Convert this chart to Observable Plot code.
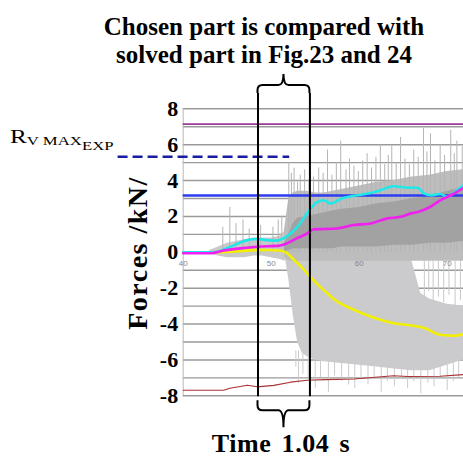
<!DOCTYPE html>
<html><head><meta charset="utf-8">
<script src="https://cdn.jsdelivr.net/npm/d3@7"></script>
<script src="https://cdn.jsdelivr.net/npm/@observablehq/plot@0.6"></script>
<style>body{margin:0;background:#fff}svg{display:block}</style>
</head><body><div id="chart"></div>
<script>
// ---- data ----
const yTicks = [8, 6, 4, 2, 0, -2, -4, -6, -8];
const gridValues = [-8,-7,-6,-5,-4,-3,-2,-1,0,1,2,3,4,5,6,7,8];
const xTicks = [40, 50, 60, 70];
const xDomain = [40, 71.85];
const selection = [48.5, 54.4];
const rvMax = 5.33, dashStart = 32.6, dashEnd = 52.1;
const purpleLevel = 7.15, blueLevel = 3.17;

const cyanT = [40,43.5,45.3,47.3,48.4,49.5,50.7,51.4,52.2,53.0,53.7,54.5,55.2,56.0,56.7,57.9,58.4,59.4,61.3,62.4,63.9,65.5,66.6,67.4,68.1,69.2,70.0,71.1,71.85];
const cyanV = [0,0,0.3,0.68,0.74,0.68,0.65,0.78,1.05,1.43,1.9,2.45,2.8,2.9,2.72,2.97,3.05,3.15,3.31,3.46,3.68,3.6,3.6,3.27,3.18,3.25,3.1,3.46,3.74];
const magT = [40,43.1,44.6,46.5,48.4,51.0,51.8,52.9,54.1,54.8,56.0,57.5,59.4,61.3,63.2,64.7,65.9,67.0,68.1,69.2,70.4,71.1,71.85];
const magV = [-0.05,-0.05,0.1,0.22,0.31,0.37,0.5,0.78,1.05,1.28,1.3,1.33,1.52,1.61,1.89,1.98,2.17,2.3,2.54,2.9,3.18,3.37,3.6];
const yelT = [40,44,46,48,49.5,51,51.8,52.6,53.4,54.5,55.3,56.2,57.1,59.4,61.7,63.9,65.5,67.4,69.2,70.8,71.85];
const yelV = [0,0,0.05,0.12,0.13,0.1,-0.05,-0.43,-0.8,-1.4,-1.8,-2.2,-2.6,-3.2,-3.65,-3.95,-4.05,-4.22,-4.6,-4.65,-4.57];
const redT = [40,44.6,45.3,47.3,48.4,50.3,52.2,54.1,56.2,59.4,63.9,65.5,69.2,71.85];
const redV = [-7.69,-7.69,-7.58,-7.41,-7.5,-7.42,-7.24,-7.13,-7.1,-7.06,-6.88,-6.92,-6.91,-6.82];

// raw force signal envelopes (gray)
const earlyT  = [43,44,45,46,47,48,49,50,51,51.6];
const earlyHi = [0.1,0.3,0.5,0.6,0.7,0.8,0.8,0.8,0.9,1.2];
const earlyLo = [-0.1,-0.2,-0.3,-0.3,-0.3,-0.2,-0.2,-0.3,-0.4,-0.5];
const posT  = [51.5,52,52.5,53,54,55,56,57,58,60,62,64,66,68,70,71.85];
const posHi = [1.2,3.0,3.3,3.4,3.4,3.3,3.3,3.4,3.5,3.7,3.9,4.0,4.2,4.3,4.5,4.6];
const posLo = [-0.3,-0.5,-0.5,-0.5,-0.5,-0.5,-0.5,-0.5,-0.5,-0.5,-0.5,-0.5,-0.5,-0.5,-0.5,-0.5];
const coreHi = [0.5,1.0,1.6,1.9,2.0,2.1,2.2,2.3,2.4,2.5,2.7,2.8,3.0,3.1,3.4,3.6];
const coreLo = [0,0.1,0.2,0.2,0.2,0.2,0.2,0.2,0.3,0.3,0.3,0.4,0.4,0.5,0.5,0.6];
const negT  = [51.6,52,52.5,53,53.5,54,55,56,58,60,62,64,66,67,68,70,71.85];
const negHi = [0,0,0,0,0,0,0,0,0,0,0,0,-0.5,-2.3,-2.6,-2.9,-3.0];
const negLo = [-0.3,-1.5,-3.5,-5.0,-5.6,-5.8,-6.0,-6.1,-6.2,-6.3,-6.4,-6.5,-6.6,-6.6,-6.6,-6.3,-6.0];
const spikeUpT  = [44.5,45.3,46,46.8,47.5,48.8,50.2,50.8,51.2,52.0,52.3,52.6,53.0,53.3,53.8,54.3,54.8,55.4,55.9,56.4,56.9,57.4,57.9,58.5,58.9,59.4,59.9,60.4,60.9,61.4,61.9,62.4,62.9,63.3,63.7,64.2,64.7,65.2,65.7,66.2,66.7,67.3,67.7,68.1,68.6,69.2,69.7,70.4,70.8,71.1,71.7];
const spikeUpV  = [1.4,2.5,1.6,1.8,1.3,1.5,1.4,1.8,2.0,5.0,4.4,4.7,3.9,4.3,4.6,4.0,4.2,4.7,4.4,5.7,4.3,5.0,6.2,4.6,5.2,4.8,4.5,5.1,5.5,4.7,5.3,6.0,4.9,5.4,5.9,5.0,6.4,5.2,4.9,5.7,5.3,6.9,5.6,6.6,5.1,6.0,5.4,6.8,5.5,6.2,5.9];
const spikeDnT  = [52.8,53.1,53.6,54.2,55,55.6,56.5,57.2,58,58.8,59.5,60.2,61,61.7,62.5,63.2,64,64.8,65.5,66.2,67,67.8,68.5,69.2,70,70.7,71.3];
const spikeDnV  = [-6.4,-7.3,-6.8,-7.0,-7.6,-7.0,-7.8,-6.9,-7.2,-7.4,-7.6,-7.1,-7.4,-7.0,-7.8,-7.2,-7.5,-7.1,-7.6,-7.2,-7.9,-7.3,-7.5,-7.0,-7.7,-7.2,-7.1];
const spikeMidT = [67.4,67.9,68.4,69.0,69.6,70.2,70.9,71.5];
const spikeMidV = [-2.6,-2.2,-3.0,-2.5,-2.8,-2.4,-3.1,-2.7];

// ---- tables built from the arrays ----
const zip2 = (t, a, b) => t.map((x, i) => ({t: x, a: a[i], b: b ? b[i] : undefined}));
const serif = "'Liberation Serif','Times New Roman',serif";

const plot = Plot.plot({
  width: 463, height: 457,
  marginLeft: 182.7, marginRight: 0, marginTop: 108.3, marginBottom: 61.7,
  x: {domain: xDomain, axis: null},
  y: {domain: [-8, 8], axis: null},
  style: {background: "white", overflow: "visible"},
  marks: [
    Plot.ruleY(gridValues, {stroke: "#9a9a9a", strokeWidth: 1.4}),
    Plot.ruleX([xDomain[0]], {stroke: "#b8b8b8", strokeWidth: 1}),
    // gray raw signal
    Plot.areaY(zip2(earlyT, earlyLo, earlyHi), {x: "t", y1: "a", y2: "b", fill: "#c9c9c9"}),
    Plot.areaY(zip2(negT, negLo, negHi), {x: "t", y1: "a", y2: "b", fill: "#cbcbce"}),
    Plot.ruleX(zip2(spikeDnT, spikeDnV), {x: "t", y1: -5.5, y2: "a", stroke: "#cbcbce", strokeWidth: 1}),
    Plot.ruleX(zip2(spikeMidT, spikeMidV), {x: "t", y1: -0.5, y2: "a", stroke: "#c8c8c8", strokeWidth: 1}),
    Plot.areaY(zip2(posT, posLo, posHi), {x: "t", y1: "a", y2: "b", fill: "#bdbdbd"}),
    Plot.ruleX(zip2(spikeUpT, spikeUpV), {x: "t", y1: 0, y2: "a", stroke: "#b4b4b4", strokeWidth: 1}),
    Plot.areaY(zip2(posT, coreLo, coreHi), {x: "t", y1: "a", y2: "b", fill: "#a2a2a2"}),
    // level lines
    Plot.ruleY([purpleLevel], {x1: xDomain[0], x2: xDomain[1], stroke: "#9a3a9a", strokeWidth: 1.8}),
    Plot.ruleY([blueLevel], {x1: xDomain[0], x2: xDomain[1], stroke: "#2f3cf0", strokeWidth: 2.4}),
    Plot.line(zip2(redT, redV), {x: "t", y: "a", stroke: "#a83232", strokeWidth: 1.1}),
    Plot.line(zip2(yelT, yelV), {x: "t", y: "a", stroke: "#f2f000", strokeWidth: 2.6, curve: "monotone-x"}),
    Plot.line(zip2(cyanT, cyanV), {x: "t", y: "a", stroke: "#20e8e8", strokeWidth: 2.6, curve: "monotone-x"}),
    Plot.line(zip2(magT, magV), {x: "t", y: "a", stroke: "#f020f0", strokeWidth: 2.6, curve: "monotone-x"}),
    Plot.ruleY([rvMax], {x1: dashStart, x2: dashEnd, stroke: "#1a1aa8", strokeWidth: 2.6, strokeDasharray: "10,5"}),
    // axes labels
    Plot.text(xTicks, {x: d => d, y: 0, dy: 11, text: d => String(d), fontSize: 8, fill: "#888", fontFamily: "Arial, sans-serif"}),
    Plot.text(yTicks, {x: xDomain[0], y: d => d, dx: -5, textAnchor: "end", text: d => String(d), fontSize: 22, fontWeight: "bold", fontFamily: serif, fill: "#000"}),
    // selected window
    Plot.ruleX(selection, {y1: 8.85, y2: -8.05, stroke: "#000", strokeWidth: 2})
  ]
});

const svg = d3.select(plot);
const X = plot.scale("x"), Y = plot.scale("y");
const xl = X.apply(selection[0]), xr = X.apply(selection[1]), xm = (xl + xr) / 2;
const yTop = Y.apply(8.85), yBot = Y.apply(-8.05);

// braces
const r = 5;
svg.append("path")
  .attr("d", `M${xl},${yTop} L${xl},${yTop - 3} Q${xl},${yTop - 8} ${xl + r},${yTop - 8} L${xm - 5},${yTop - 8} Q${xm},${yTop - 8} ${xm},${yTop - 19}
             M${xm},${yTop - 19} Q${xm},${yTop - 8} ${xm + 5},${yTop - 8} L${xr - r},${yTop - 8} Q${xr},${yTop - 8} ${xr},${yTop - 3} L${xr},${yTop}`)
  .attr("fill", "none").attr("stroke", "#000").attr("stroke-width", 2);
svg.append("path")
  .attr("d", `M${xl},${yBot + 4} L${xl},${yBot + 9} Q${xl},${yBot + 14} ${xl + r},${yBot + 14} L${xm - 5},${yBot + 14} Q${xm},${yBot + 14} ${xm},${yBot + 31}
             M${xm},${yBot + 31} Q${xm},${yBot + 14} ${xm + 5},${yBot + 14} L${xr - r},${yBot + 14} Q${xr},${yBot + 14} ${xr},${yBot + 9} L${xr},${yBot + 4}`)
  .attr("fill", "none").attr("stroke", "#000").attr("stroke-width", 2);

const txt = (x, y, s, size, anchor) => svg.append("text").attr("x", x).attr("y", y)
  .attr("text-anchor", anchor || "middle").attr("font-family", serif).attr("font-weight", "bold")
  .attr("font-size", size).attr("fill", "#000").text(s);

txt(264, 35, "Chosen part is compared with", 25);
txt(264, 63, "solved part in Fig.23 and 24", 25);
txt(281, 452, "Time 1.04 s", 26).attr("word-spacing", 3).attr("letter-spacing", 0.6);
txt(0, 0, "Forces /kN/", 28).attr("transform", "translate(147,253) rotate(-90)").attr("letter-spacing", 1.5);

const rl = svg.append("text").attr("x", 0).attr("y", 0).attr("text-anchor", "start")
  .attr("transform", "translate(10,143) scale(1.4,1)")
  .attr("font-family", serif).attr("font-weight", "normal").attr("fill", "#000");
rl.append("tspan").attr("font-size", 18).text("R");
rl.append("tspan").attr("font-size", 12).attr("dy", 2).text("V MAX");
rl.append("tspan").attr("font-size", 12).attr("dy", 5).text("EXP");

document.getElementById("chart").appendChild(plot);
</script></body></html>
